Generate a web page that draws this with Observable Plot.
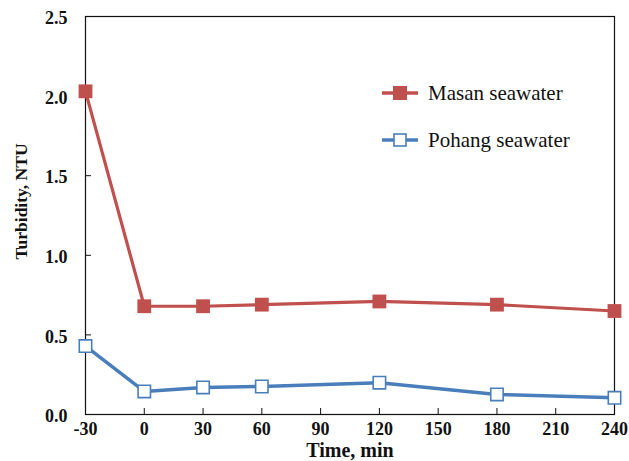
<!DOCTYPE html>
<html><head><meta charset="utf-8">
<script src="https://cdn.jsdelivr.net/npm/d3@7"></script>
<script src="https://cdn.jsdelivr.net/npm/@observablehq/plot@0.6"></script>
<style>
html,body{margin:0;padding:0;background:#fff;}
#wrap{position:relative;width:629px;height:461px;}
.leg{position:absolute;font-family:"Liberation Serif","Times New Roman",serif;font-size:21px;color:#111;display:flex;align-items:center;white-space:nowrap;}
.leg svg{margin-right:10px;}
</style></head>
<body><div id="wrap"></div>
<script>
const times = [-30, 0, 30, 60, 120, 180, 240];
const masan = [2.03, 0.68, 0.68, 0.69, 0.71, 0.69, 0.65];
const pohang = [0.43, 0.145, 0.17, 0.176, 0.20, 0.126, 0.105];
const xTicks = [-30, 0, 30, 60, 90, 120, 150, 180, 210, 240];
const yTicks = [0, 0.5, 1.0, 1.5, 2.0, 2.5];
const seriesNames = ["Masan seawater", "Pohang seawater"];
const xTitle = "Time, min";
const yTitle = "Turbidity, NTU";
const RED = "#C0504D", BLUE = "#4A7EBB";

const mData = times.map((t, i) => ({t, v: masan[i]}));
const pData = times.map((t, i) => ({t, v: pohang[i]}));

const font = `"Liberation Serif","Times New Roman",serif`;
const chart = Plot.plot({
  width: 629, height: 461,
  marginLeft: 85, marginRight: 15, marginTop: 16, marginBottom: 47,
  style: {fontFamily: font, fontSize: "18px", fontWeight: "bold", color: "#111", background: "#fff"},
  x: {domain: [-30, 240]},
  y: {domain: [0, 2.5]},
  marks: [
    Plot.frame({stroke: "#111", strokeWidth: 1.2}),
    Plot.axisX({ticks: xTicks, tickSize: -6, tickPadding: 14, tickFormat: d => String(d),
      label: null, fontSize: 18}),
    Plot.axisY({ticks: yTicks, tickSize: -6, tickFormat: () => "", label: null}),
    Plot.axisY({ticks: yTicks, tickSize: 0, tickPadding: 18, dy: 2, tickFormat: d => d.toFixed(1),
      label: null, fontSize: 18}),
    Plot.text([xTitle], {frameAnchor: "bottom", text: d => d, dy: 36, fontSize: 20, fontWeight: "bold", textAnchor: "middle", lineAnchor: "middle", fill: "#111"}),
    Plot.text([yTitle], {frameAnchor: "left", text: d => d, rotate: -90, dx: -64, dy: -14, fontSize: 17.5, fontWeight: "bold", textAnchor: "middle", lineAnchor: "middle", fill: "#111"}),
    Plot.line(mData, {x: "t", y: "v", stroke: RED, strokeWidth: 3.2}),
    Plot.dot(mData, {x: "t", y: "v", symbol: "square", r: 7.8, fill: RED, stroke: "none"}),
    Plot.line(pData, {x: "t", y: "v", stroke: BLUE, strokeWidth: 3.5}),
    Plot.dot(pData, {x: "t", y: "v", symbol: "square", r: 7, fill: "#fff", stroke: BLUE, strokeWidth: 1.6})
  ]
});
const wrap = document.getElementById("wrap");
wrap.appendChild(chart);

function legItem(name, color, filled, top) {
  const d = document.createElement("div");
  d.className = "leg";
  d.style.left = "382px"; d.style.top = (top - 14) + "px"; d.style.height = "28px";
  d.innerHTML = `<svg width="36" height="16" viewBox="0 0 36 16">
    <line x1="0" y1="8" x2="36" y2="8" stroke="${color}" stroke-width="3.3"/>
    <rect x="${filled ? 11 : 12}" y="${filled ? 1 : 2}" width="${filled ? 14 : 12}" height="${filled ? 14 : 12}" fill="${filled ? color : '#fff'}" stroke="${filled ? 'none' : color}" stroke-width="1.6"/>
  </svg><span>${name}</span>`;
  wrap.appendChild(d);
}
legItem(seriesNames[0], RED, true, 93);
legItem(seriesNames[1], BLUE, false, 140);
</script></body></html>
